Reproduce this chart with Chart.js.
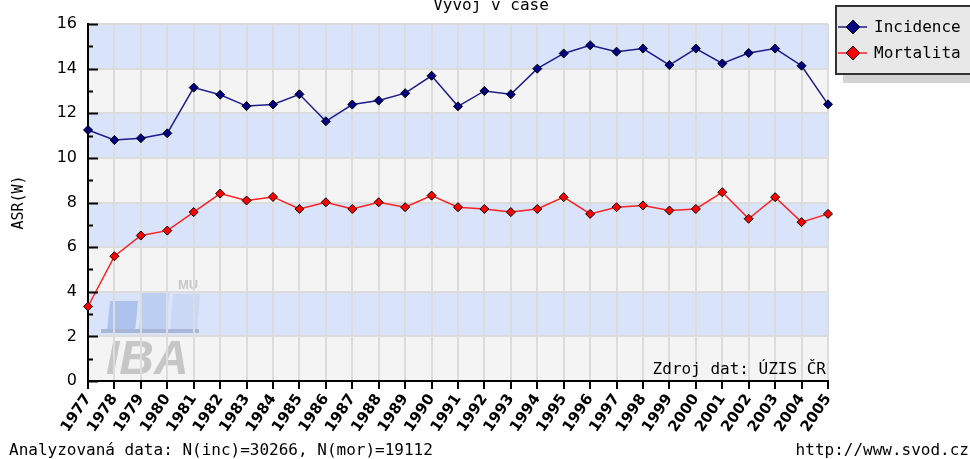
<!DOCTYPE html>
<html>
<head>
<meta charset="utf-8">
<script src="https://cdn.jsdelivr.net/npm/chart.js@4"></script>
<style>
  html, body { margin: 0; padding: 0; background: #fff; }
  #wrap { width: 970px; height: 459px; }
</style>
</head>
<body>
<div id="wrap"><canvas id="asrChart" width="970" height="459"></canvas></div>
<script>
/* ============================================================
   DATA
============================================================ */

const roky = ["1977","1978","1979","1980","1981","1982","1983","1984","1985","1986",
              "1987","1988","1989","1990","1991","1992","1993","1994","1995","1996",
              "1997","1998","1999","2000","2001","2002","2003","2004","2005"];

const incidence = [11.25, 10.8, 10.88, 11.1, 13.15, 12.83, 12.32, 12.39, 12.85, 11.64,
                   12.39, 12.57, 12.9, 13.68, 12.31, 13.0, 12.85, 14.0, 14.68, 15.05,
                   14.76, 14.9, 14.16, 14.9, 14.23, 14.7, 14.9, 14.13, 12.4];

const mortalita = [3.34, 5.59, 6.52, 6.74, 7.57, 8.4, 8.09, 8.25, 7.71, 8.01,
                   7.71, 8.01, 7.79, 8.31, 7.79, 7.71, 7.57, 7.71, 8.24, 7.49,
                   7.79, 7.87, 7.64, 7.71, 8.46, 7.27, 8.24, 7.12, 7.49];

const yMin = 0, yMax = 16, yStep = 2;

const titulek = "Vývoj v čase";
const osaY = "ASR(W)";
const zdroj = "Zdroj dat: ÚZIS ČR";
const poznamka = "Analyzovaná data: N(inc)=30266, N(mor)=19112";
const web = "http://www.svod.cz";

const MONO = "'DejaVu Sans Mono', monospace";

/* ============================================================
   PLUGIN: pozadí, logo, legenda, texty
============================================================ */

const dekorace = {
    id: "dekorace",
    beforeDraw(chart) {
        const c = chart.ctx, a = chart.chartArea, y = chart.scales.y;
        c.save();
        // pruhy
        for (let v = yMin; v < yMax; v += yStep) {
            const top = y.getPixelForValue(v + yStep), bot = y.getPixelForValue(v);
            c.fillStyle = ((v / yStep) % 2 === 1) ? "#d9e3fa" : "#f4f4f4";
            c.fillRect(a.left, top, a.right - a.left, bot - top);
        }
        // logo IBA MU
        const para = (x, yt, w, h, col) => {
            c.fillStyle = col;
            c.beginPath();
            c.moveTo(x + 3, yt); c.lineTo(x + w + 3, yt);
            c.lineTo(x + w, yt + h); c.lineTo(x, yt + h);
            c.closePath(); c.fill();
        };
        para(107, 301, 28, 31, "#adc3ee");
        para(139, 293, 27, 39, "#bccff3");
        para(170, 294, 27, 38, "#cad8f6");
        c.fillStyle = "#a8b6d8";
        c.fillRect(101, 329, 98, 4);
        c.fillStyle = "#c6c6c6";
        c.font = "italic bold 48px 'Liberation Sans', sans-serif";
        c.textBaseline = "alphabetic";
        c.fillText("IBA", 106, 374);
        c.font = "bold 13px 'Liberation Sans', sans-serif";
        c.fillStyle = "#c8c8c8";
        c.fillText("MU", 178, 289);
        c.restore();
    },
    afterDraw(chart) {
        const c = chart.ctx, a = chart.chartArea, y = chart.scales.y;
        c.save();
        // vnitřní značky osy Y
        c.strokeStyle = "#000";
        c.lineWidth = 2;
        for (let v = yMin; v <= yMax; v++) {
            const py = Math.round(y.getPixelForValue(v)) + 0.5;
            const len = (v % yStep === 0) ? 10 : 5;
            c.beginPath();
            c.moveTo(a.left, py); c.lineTo(a.left + len, py);
            c.stroke();
        }
        // texty
        c.fillStyle = "#000";
        c.font = "16px " + MONO;
        c.textAlign = "center";
        c.textBaseline = "alphabetic";
        c.fillText(titulek, 491, 10);
        c.textAlign = "right";
        c.fillText(zdroj, a.right - 2, 374);
        c.textAlign = "left";
        c.fillText(poznamka, 9, 455);
        c.textAlign = "right";
        c.fillText(web, 969, 455);

        // legenda
        const lx = 835, ly = 5, lw = 140, lh = 70;
        c.fillStyle = "#d2d2d2";
        c.fillRect(lx + 8, ly + 8, lw, lh);
        c.fillStyle = "#e8e8e8";
        c.fillRect(lx, ly, lw, lh);
        c.strokeStyle = "#333";
        c.lineWidth = 2;
        c.strokeRect(lx + 1, ly + 1, lw, lh - 2);
        chart.data.datasets.forEach((ds, i) => {
            const cy = 27 + i * 26;
            c.strokeStyle = ds.borderColor;
            c.lineWidth = 1.5;
            c.beginPath(); c.moveTo(838, cy); c.lineTo(867, cy); c.stroke();
            c.fillStyle = ds.pointBackgroundColor;
            c.strokeStyle = "#000";
            c.lineWidth = 1;
            c.beginPath();
            c.moveTo(853, cy - 7); c.lineTo(860, cy); c.lineTo(853, cy + 7); c.lineTo(846, cy);
            c.closePath(); c.fill(); c.stroke();
            c.fillStyle = "#000";
            c.font = "16px " + MONO;
            c.textAlign = "left";
            c.textBaseline = "middle";
            c.fillText(ds.label, 874, cy + 1);
        });
        c.restore();
    }
};

/* ============================================================
   GRAF
============================================================ */

const ctx = document.getElementById("asrChart");
new Chart(ctx, {
    type: "line",
    data: {
        labels: roky,
        datasets: [
            {
                label: "Incidence",
                data: incidence,
                borderColor: "#1c1c8c",
                borderWidth: 1.5,
                pointStyle: "rectRot",
                pointRadius: 4.5,
                pointBackgroundColor: "#000080",
                pointBorderColor: "#000",
                pointBorderWidth: 1,
                tension: 0
            },
            {
                label: "Mortalita",
                data: mortalita,
                borderColor: "#ff2020",
                borderWidth: 1.5,
                pointStyle: "rectRot",
                pointRadius: 4.5,
                pointBackgroundColor: "#ff0000",
                pointBorderColor: "#000",
                pointBorderWidth: 1,
                tension: 0
            }
        ]
    },
    options: {
        responsive: false,
        animation: false,
        layout: { padding: { top: 24, right: 142, left: 0, bottom: 0 } },
        plugins: {
            legend: { display: false },
            title: { display: false },
            tooltip: { enabled: false }
        },
        scales: {
            x: {
                offset: false,
                afterFit(s) { s.height = 78; },
                grid: { color: "#dcdcdc", lineWidth: 2, tickColor: "#000", tickLength: 8, tickWidth: 2 },
                border: { color: "#000", width: 2 },
                ticks: {
                    autoSkip: false, minRotation: 56, maxRotation: 56, padding: 2,
                    color: "#000", font: { family: "'DejaVu Sans'", size: 15, weight: "bold" }
                }
            },
            y: {
                min: yMin, max: yMax,
                afterFit(s) { s.width = 88; },
                grid: { color: "#dcdcdc", lineWidth: 2, drawTicks: false },
                border: { color: "#000", width: 2 },
                ticks: {
                    stepSize: yStep, padding: 11,
                    color: "#000", font: { family: "'DejaVu Sans'", size: 16 }
                },
                title: {
                    display: true, text: osaY, color: "#000",
                    font: { family: MONO, size: 15 }, padding: { top: 10, bottom: 0 }
                }
            }
        }
    },
    plugins: [dekorace]
});
</script>
</body>
</html>
